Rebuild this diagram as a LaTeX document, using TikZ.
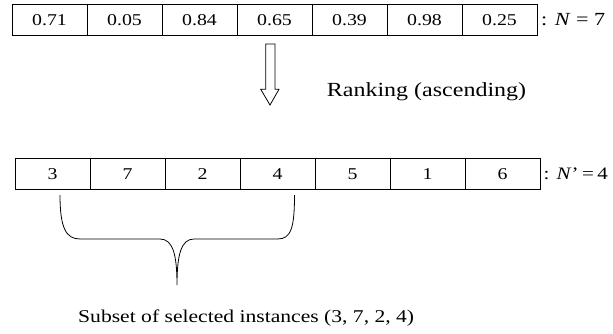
\documentclass[tikz,border=0pt]{standalone}
\usepackage{fontspec}
\setmainfont{Liberation Serif}
\newcommand{\wx}[1]{\scalebox{1.2}[1]{#1}}
\begin{document}
\begin{tikzpicture}[x=1pt,y=-1pt,
  cellA/.style={draw,line width=0.8pt,minimum width=75pt,minimum height=31.7pt,inner sep=0pt,font=\fontsize{16.5}{19}\selectfont},
  cellB/.style={draw,line width=0.8pt,minimum width=75pt,minimum height=31pt,inner sep=0pt,font=\fontsize{16.5}{19}\selectfont},
  lbl/.style={anchor=west,inner sep=0pt}]
\useasboundingbox (0,0) rectangle (613,333);
\foreach \v [count=\i] in {0.71,0.05,0.84,0.65,0.39,0.98,0.25}{
  \node[cellA] (a\i) at ({12+37.5+75*(\i-1)},19.9) {\wx{\v}};
}
\foreach \v [count=\i] in {3,7,2,4,5,1,6}{
  \node[cellB] (b\i) at ({15+37.5+75*(\i-1)},173.8) {\wx{\v}};
}
\node[lbl,font=\fontsize{18.5}{22}\selectfont] (n1) at (541,20) {\wx{: \textit{N} = 7}};
\node[lbl,font=\fontsize{17.5}{21}\selectfont] (n2) at (543.5,174) {\wx{: \textit{N}’\,=\,4}};
\node[lbl,font=\fontsize{20}{23}\selectfont] (rk) at (326.7,92) {\wx{Ranking (ascending)}};
\node[lbl,font=\fontsize{18}{21}\selectfont] (sub) at (78,318) {\wx{Subset of selected instances (3, 7, 2, 4)}};
% hollow arrow
\draw[line width=0.8pt] (265.7,44) -- (275,44) -- (275,89.3) -- (279,89.3) -- (270,105) -- (260.7,89.3) -- (265.7,89.3) -- cycle;
% brace
\coordinate (bl) at (60,195);
\coordinate (br) at (294.5,195);
\coordinate (tip) at (177,285);
\draw[line width=0.8pt] (bl) .. controls (60,228) and (66,239) .. (80,239) -- (160,239)
  .. controls (173,239) and (177,255) .. (tip)
  .. controls (177,255) and (181,239) .. (194,239) -- (277.6,239)
  .. controls (291,239) and (294.5,228) .. (br);
\end{tikzpicture}
\end{document}
